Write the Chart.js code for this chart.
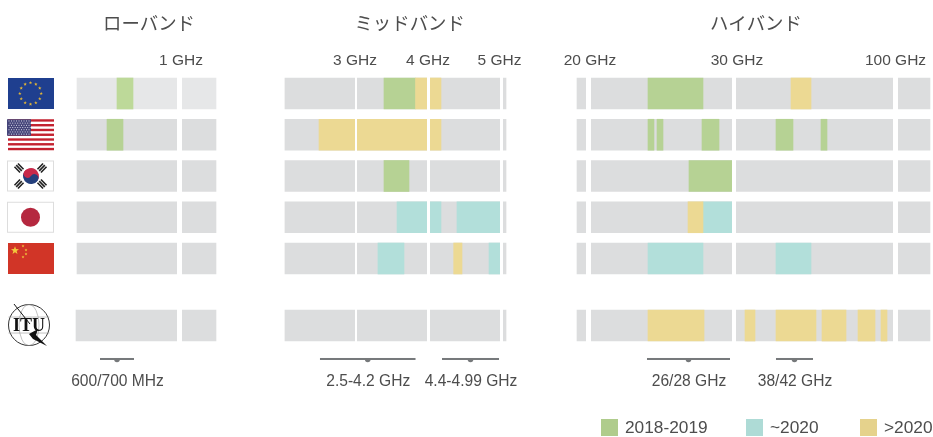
<!DOCTYPE html>
<html lang="ja">
<head>
<meta charset="utf-8">
<title>5G spectrum</title>
<script src="https://cdn.jsdelivr.net/npm/chart.js@4"></script>
<style>
  html, body { margin: 0; background: #fff; }
  canvas { display: block; }
</style>
</head>
<body>
<canvas id="chart" width="933" height="437"></canvas>
<script>
const TEXT_COLOR = '#4d4d4d';
const LATIN_FONT = '"Liberation Sans", Arial, sans-serif';
const CJK_FONT = '"Noto Sans CJK JP", sans-serif';

// data, all frequencies in GHz
const bandTitles = ['ローバンド', 'ミッドバンド', 'ハイバンド'];
const tickGhz = [1, 3, 4, 5, 20, 30, 100];
const tickGapWidths = [5, 2, 3, 3, 5, 4, 5];
const regions = ['EU', 'US', 'KR', 'JP', 'CN', 'ITU'];
const periods = ['2018-2019', '~2020', '>2020'];
const bandRanges = [[0.4875, 1.1825], [2.02, 5.062], [19, 110]];
const ituLowStart = 0.4825;

const green = [
  [0, 0.6875, 0.7675], [0, 3.386, 3.821], [0, 24.089, 27.869],
  [1, 0.6375, 0.7175], [1, 24.089, 24.5], [1, 24.708, 25.12], [1, 27.8, 28.97], [1, 48.2, 55.57], [1, 67.71, 70.31],
  [2, 3.386, 3.731], [2, 26.907, 30]
];
const teal = [
  [3, 3.566, 4.171], [3, 4.39, 4.98], [3, 27.869, 30],
  [4, 3.303, 3.662], [4, 4.829, 4.98], [4, 24.089, 27.869], [4, 48.2, 63.38]
];
const yellow = [
  [0, 3.821, 4.171], [0, 54.71, 63.38],
  [1, 2.49, 4.171],
  [3, 26.84, 27.869],
  [4, 4.345, 4.459],
  [5, 24.089, 27.94], [5, 34.77, 39.11], [5, 48.2, 65.54], [5, 68.14, 78.55], [5, 83.75, 91.12], [5, 93.72, 96.32]
];
const bracketLabels = ['600/700 MHz', '2.5-4.2 GHz', '4.4-4.99 GHz', '26/28 GHz', '38/42 GHz'];
const bracketRanges = [[0.6025, 0.7725], [2.503, 3.821], [4.185, 4.966], [24.02, 29.725], [48.2, 64.24]];

// the frequency axis is cut into three panels, so it is piecewise linear: [GHz, x at full width]
const AXIS_STOPS = [
  [0.4, 59.5], [1, 179.5], [1.2, 219.5],
  [2, 283.5], [3, 356], [4, 428.5], [5, 501.5], [5.1, 508.8],
  [19, 577], [20, 588.5], [30, 734], [100, 895.5], [110, 930]
];
const FULL_WIDTH = 933;
const ROW_PX = 41.25;
const ITU_ROW = 5.625;   // the ITU row sits apart from the countries
const Y_MIN = -0.5697;
const AXIS_HEIGHT = 70;
// tick labels are not quite centred on their gaps in the original
const TICK_LABEL_NUDGE = [1.5, -1, -0.5, -2, 1.5, 3, 0];

class BandScale extends Chart.LinearScale {
  getPixelForValue(value) {
    let i = 0;
    while (i < AXIS_STOPS.length - 2 && value > AXIS_STOPS[i + 1][0]) i++;
    const [g0, p0] = AXIS_STOPS[i];
    const [g1, p1] = AXIS_STOPS[i + 1];
    const pos = p0 + (value - g0) / (g1 - g0) * (p1 - p0);
    return this.left + pos / FULL_WIDTH * this.width;
  }
  getValueForPixel(pixel) {
    const pos = (pixel - this.left) / this.width * FULL_WIDTH;
    let i = 0;
    while (i < AXIS_STOPS.length - 2 && pos > AXIS_STOPS[i + 1][1]) i++;
    const [g0, p0] = AXIS_STOPS[i];
    const [g1, p1] = AXIS_STOPS[i + 1];
    return g0 + (pos - p0) / (p1 - p0) * (g1 - g0);
  }
  _computeLabelItems(chartArea) {
    const items = super._computeLabelItems(chartArea);
    items.forEach((item, i) => { item.options.translation[0] += TICK_LABEL_NUDGE[i] || 0; });
    return items;
  }
}
BandScale.id = 'bandScale';
BandScale.defaults = Chart.LinearScale.defaults;
Chart.register(BandScale);

const rowOf = (i) => (i === 5 ? ITU_ROW : i);
const toBars = (rows) => rows.map(([row, from, to]) => ({ x: [from, to], y: rowOf(row) }));

// the EU row of the low band is a little paler in the original
const isPaleEu = (ctx) => ctx.raw && ctx.raw.y === 0 && ctx.raw.x[1] < 2;

const backgroundBars = [];
regions.forEach((name, row) => {
  bandRanges.forEach(([from, to], band) => {
    const start = band === 0 && name === 'ITU' ? ituLowStart : from;
    backgroundBars.push({ x: [start, to], y: rowOf(row) });
  });
});

function star(ctx, x, y, r, color) {
  ctx.fillStyle = color;
  ctx.beginPath();
  for (let i = 0; i < 10; i++) {
    const a = -Math.PI / 2 + i * Math.PI / 5;
    const d = i % 2 ? r * 0.42 : r;
    ctx.lineTo(x + d * Math.cos(a), y + d * Math.sin(a));
  }
  ctx.closePath();
  ctx.fill();
}

function borderedFlag(ctx, top) {
  ctx.fillStyle = '#fff';
  ctx.strokeStyle = '#dddddd';
  ctx.lineWidth = 1;
  ctx.fillRect(7.5, top + 0.5, 46, 30);
  ctx.strokeRect(7.5, top + 0.5, 46, 30);
}

const flagDrawers = {
  EU(ctx, top) {
    ctx.fillStyle = '#1f3f8f';
    ctx.fillRect(8, top, 46, 31);
    for (let i = 0; i < 12; i++) {
      const a = i * Math.PI / 6;
      star(ctx, 30.5 + 10.7 * Math.cos(a), top + 15.5 + 10.7 * Math.sin(a), 1.8, '#e3b637');
    }
  },
  US(ctx, top) {
    const h = 31 / 13;
    ctx.fillStyle = '#fff';
    ctx.fillRect(8, top, 46, 31);
    ctx.fillStyle = '#c3212f';
    for (let i = 0; i < 13; i += 2) ctx.fillRect(8, top + i * h, 46, h);
    ctx.fillStyle = '#45457a';
    ctx.fillRect(7, top, 24, 16.5);
    ctx.fillStyle = '#d8d8e6';
    for (let r = 0; r < 7; r++) {
      for (let c = 0; c < 9; c++) {
        ctx.fillRect(8.5 + c * 2.5 + (r % 2) * 1.2, top + 1.2 + r * 2.2, 1, 1);
      }
    }
  },
  KR(ctx, top) {
    borderedFlag(ctx, top);
    const cx = 31, cy = top + 15.5, r = 8;
    ctx.save();
    ctx.translate(cx, cy);
    ctx.rotate(0.55);
    ctx.fillStyle = '#c8294a';
    ctx.beginPath();
    ctx.arc(0, 0, r, Math.PI, 0);
    ctx.fill();
    ctx.fillStyle = '#243f7c';
    ctx.beginPath();
    ctx.arc(0, 0, r, 0, Math.PI);
    ctx.fill();
    ctx.beginPath();
    ctx.arc(-r / 2, 0, r / 2, 0, Math.PI * 2);
    ctx.fillStyle = '#c8294a';
    ctx.fill();
    ctx.beginPath();
    ctx.arc(r / 2, 0, r / 2, 0, Math.PI * 2);
    ctx.fillStyle = '#243f7c';
    ctx.fill();
    ctx.restore();
    ctx.fillStyle = '#222';
    [[19, -8, 0.8], [42, -8, -0.8], [19, 8, -0.8], [42, 8, 0.8]].forEach(([x, dy, a]) => {
      ctx.save();
      ctx.translate(x, cy + dy);
      ctx.rotate(a);
      for (let i = -1; i <= 1; i++) ctx.fillRect(-4, i * 2.4 - 0.8, 8, 1.6);
      ctx.restore();
    });
  },
  JP(ctx, top) {
    borderedFlag(ctx, top);
    ctx.fillStyle = '#b5283f';
    ctx.beginPath();
    ctx.arc(30.5, top + 15.5, 9.5, 0, Math.PI * 2);
    ctx.fill();
  },
  CN(ctx, top) {
    ctx.fillStyle = '#d13527';
    ctx.fillRect(8, top, 46, 31);
    star(ctx, 15, top + 7.5, 4.2, '#f2c83c');
    [[23, 3], [26, 7], [26, 11], [23, 14]].forEach(([x, dy]) => star(ctx, x, top + dy, 1.5, '#f2c83c'));
  },
  ITU(ctx, top) {
    const cx = 29, cy = top + 15, r = 20.5;
    ctx.strokeStyle = '#333';
    ctx.lineWidth = 1;
    ctx.beginPath();
    ctx.arc(cx, cy, r, 0, Math.PI * 2);
    ctx.stroke();
    ctx.strokeStyle = '#999';
    ctx.lineWidth = 0.6;
    ctx.beginPath();
    ctx.ellipse(cx, cy, 10, r, 0, 0, Math.PI * 2);
    ctx.moveTo(cx - r, cy - 8);
    ctx.lineTo(cx + r, cy - 8);
    ctx.moveTo(cx - r, cy + 8);
    ctx.lineTo(cx + r, cy + 8);
    ctx.stroke();
    ctx.strokeStyle = '#111';
    ctx.lineWidth = 1;
    ctx.beginPath();
    ctx.moveTo(14, top - 6);
    ctx.lineTo(30, top + 14);
    ctx.stroke();
    ctx.fillStyle = '#111';
    ctx.beginPath();
    ctx.moveTo(29, top + 24);
    ctx.lineTo(38, top + 19);
    ctx.lineTo(36, top + 25);
    ctx.lineTo(47, top + 36);
    ctx.lineTo(33, top + 29);
    ctx.closePath();
    ctx.fill();
    ctx.font = 'bold 18px "Liberation Serif", serif';
    ctx.textAlign = 'center';
    ctx.textBaseline = 'middle';
    ctx.fillText('ITU', cx, cy + 1);
  }
};

const decorations = {
  id: 'decorations',
  afterDraw(chart) {
    const { ctx, scales } = chart;
    const { x, y } = scales;
    ctx.save();

    ctx.fillStyle = TEXT_COLOR;
    ctx.font = '18.4px ' + CJK_FONT;
    ctx.textAlign = 'center';
    ctx.textBaseline = 'middle';
    const titleCenters = [0.8475, 3.74, 39.5];
    bandTitles.forEach((title, i) => ctx.fillText(title, x.getPixelForValue(titleCenters[i]), 23));

    regions.forEach((name, row) => {
      const mid = y.getPixelForValue(rowOf(row));
      flagDrawers[name](ctx, mid - 15.5);
    });

    const lineY = y.getPixelForValue(6.436);
    ctx.font = '15.6px ' + LATIN_FONT;
    ctx.textAlign = 'center';
    bracketRanges.forEach(([from, to], i) => {
      const left = x.getPixelForValue(from);
      const right = x.getPixelForValue(to);
      const center = (left + right) / 2;
      ctx.fillStyle = '#76797b';
      ctx.fillRect(left, lineY - 1, right - left, 2);
      ctx.beginPath();
      ctx.arc(center, lineY + 0.5, 2.8, 0, Math.PI);
      ctx.fill();
      ctx.fillStyle = TEXT_COLOR;
      ctx.fillText(bracketLabels[i], center + 0.5, lineY + 22.5);
    });

    // legend spacing in the original is uneven, so the built-in legend can't reproduce it
    const legendColors = ['#afcc8c', '#aedbd6', '#e5d28c'];
    const legendLeft = [601, 746, 860];
    ctx.font = '17.3px ' + LATIN_FONT;
    ctx.textAlign = 'left';
    periods.forEach((label, i) => {
      ctx.fillStyle = legendColors[i];
      ctx.fillRect(legendLeft[i], 419, 17, 17);
      ctx.fillStyle = TEXT_COLOR;
      ctx.fillText(label, legendLeft[i] + 24, 428);
    });
    ctx.restore();
  }
};

new Chart(document.getElementById('chart'), {
  type: 'bar',
  data: {
    datasets: [
      {
        label: 'band',
        data: backgroundBars,
        backgroundColor: (ctx) => (isPaleEu(ctx) ? '#e6e7e8' : '#dcddde'),
        order: 4
      },
      {
        label: periods[0],
        data: toBars(green),
        backgroundColor: (ctx) => (isPaleEu(ctx) ? '#bdd999' : '#b6d294'),
        order: 3
      },
      { label: periods[1], data: toBars(teal), backgroundColor: '#b2dfda', order: 2 },
      { label: periods[2], data: toBars(yellow), backgroundColor: '#ecd993', order: 1 }
    ]
  },
  options: {
    indexAxis: 'y',
    responsive: false,
    animation: false,
    layout: { padding: 0 },
    datasets: { bar: { barThickness: 31, grouped: false, borderWidth: 0 } },
    plugins: {
      legend: { display: false },
      tooltip: { enabled: false }
    },
    scales: {
      x: {
        type: 'bandScale',
        position: 'top',
        min: 0.4,
        max: 110,
        afterBuildTicks(scale) {
          scale.ticks = tickGhz.map((value) => ({ value }));
        },
        afterFit(scale) {
          scale.height = AXIS_HEIGHT;
        },
        grid: {
          z: 1,
          color: '#ffffff',
          drawTicks: false,
          lineWidth: (ctx) => tickGapWidths[ctx.index] || 0
        },
        border: { display: false },
        ticks: {
          autoSkip: false,
          maxRotation: 0,
          padding: 0,
          color: TEXT_COLOR,
          font: { family: LATIN_FONT, size: 15.5 },
          callback: (value) => value + ' GHz'
        }
      },
      y: {
        type: 'linear',
        display: false,
        reverse: true,
        offset: false,
        min: Y_MIN,
        max: Y_MIN + (437 - AXIS_HEIGHT) / ROW_PX
      }
    }
  },
  plugins: [decorations]
});
</script>
</body>
</html>
